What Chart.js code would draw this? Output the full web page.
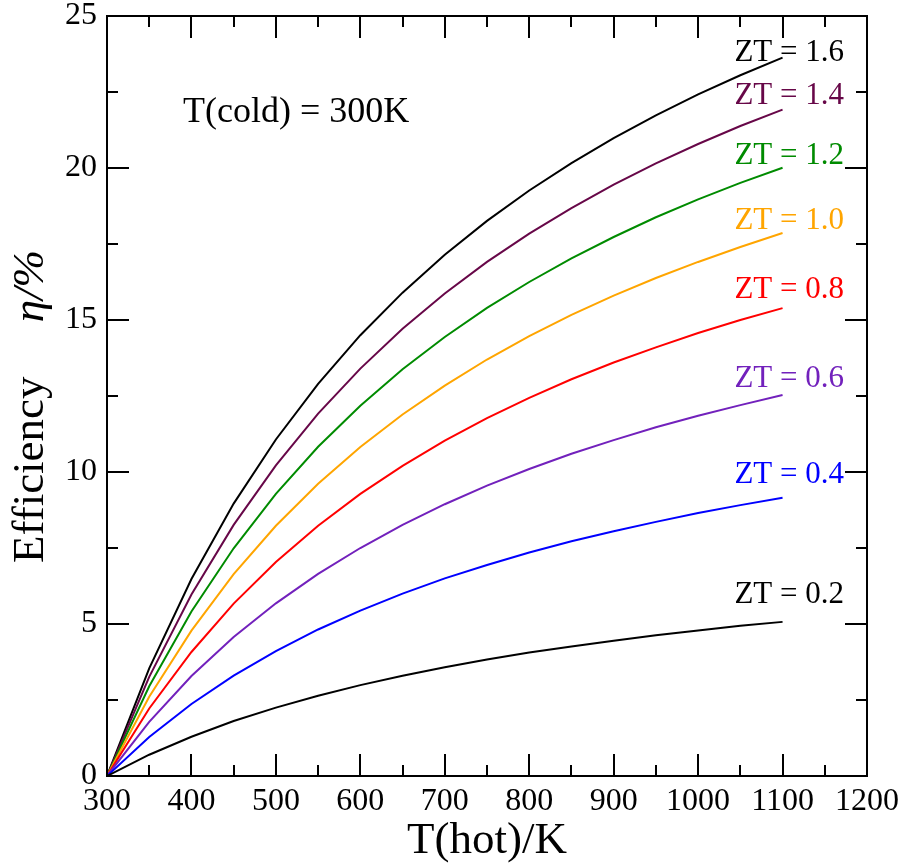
<!DOCTYPE html>
<html>
<head>
<meta charset="utf-8">
<title>Thermoelectric efficiency</title>
<script src="https://cdn.jsdelivr.net/npm/chart.js@4"></script>
<style>
    body { margin: 0; background: #fff; }
    canvas { display: block; }
</style>
</head>
<body>
<canvas id="effChart" width="905" height="863"></canvas>
<script>
// Hot side temperature (K), cold side fixed at 300 K
const tHot = [300, 350, 400, 450, 500, 550, 600, 650, 700, 750, 800, 850, 900, 950, 1000, 1050, 1100];

// Efficiency in %, one array per ZT
const zt02 = [0, 0.70, 1.29, 1.81, 2.25, 2.64, 2.99, 3.30, 3.58, 3.83, 4.06, 4.26, 4.45, 4.63, 4.79, 4.94, 5.07];
const zt04 = [0, 1.28, 2.37, 3.30, 4.11, 4.82, 5.44, 6.00, 6.50, 6.94, 7.35, 7.72, 8.05, 8.36, 8.65, 8.91, 9.15];
const zt06 = [0, 1.78, 3.29, 4.57, 5.68, 6.65, 7.50, 8.26, 8.94, 9.55, 10.10, 10.60, 11.05, 11.47, 11.85, 12.20, 12.53];
const zt08 = [0, 2.22, 4.08, 5.67, 7.04, 8.23, 9.28, 10.20, 11.03, 11.77, 12.44, 13.05, 13.60, 14.10, 14.57, 15.00, 15.39];
const zt10 = [0, 2.61, 4.78, 6.64, 8.23, 9.61, 10.82, 11.89, 12.84, 13.70, 14.47, 15.17, 15.80, 16.38, 16.91, 17.40, 17.86];
const zt12 = [0, 2.95, 5.41, 7.49, 9.28, 10.83, 12.18, 13.38, 14.44, 15.40, 16.25, 17.03, 17.73, 18.38, 18.97, 19.51, 20.01];
const zt14 = [0, 3.26, 5.97, 8.26, 10.22, 11.92, 13.40, 14.71, 15.87, 16.91, 17.84, 18.68, 19.45, 20.15, 20.79, 21.38, 21.92];
const zt16 = [0, 3.54, 6.48, 8.96, 11.07, 12.90, 14.50, 15.90, 17.15, 18.26, 19.26, 20.16, 20.98, 21.73, 22.42, 23.05, 23.63];

const seriesLabels = ['ZT = 0.2', 'ZT = 0.4', 'ZT = 0.6', 'ZT = 0.8', 'ZT = 1.0', 'ZT = 1.2', 'ZT = 1.4', 'ZT = 1.6'];
const seriesValues = [zt02, zt04, zt06, zt08, zt10, zt12, zt14, zt16];
const seriesColors = ['#000000', '#0000ff', '#7221bc', '#ff0000', '#ffa500', '#008b00', '#670748', '#000000'];

// Axis ranges / tick steps
const xRange = [300, 1200];
const yRange = [0, 25];
const xMajor = 100, xMinor = 50;
const yMajor = 5, yMinor = 2.5;

const serif = "'Liberation Serif', 'DejaVu Serif', serif";

// Label baselines in pixels (right aligned at labelRight)
const labelBaselines = [603, 483, 387, 298, 229, 164, 104, 61];
const labelRight = 844;

function buildDatasets() {
    return seriesValues.map((vals, i) => ({
        label: seriesLabels[i],
        data: tHot.map((t, j) => ({ x: t, y: vals[j] })),
        borderColor: seriesColors[i],
        backgroundColor: seriesColors[i],
        borderWidth: 2,
        pointRadius: 0,
        tension: 0,
        fill: false
    }));
}

// Frame, inward ticks, curve labels and axis titles
const decorPlugin = {
    id: 'decor',
    afterDraw(chart) {
        const ctx = chart.ctx;
        const area = chart.chartArea;
        const xs = chart.scales.x;
        const ys = chart.scales.y;
        ctx.save();
        ctx.strokeStyle = '#000';
        ctx.lineWidth = 2;

        ctx.beginPath();
        for (let v = xRange[0]; v <= xRange[1]; v += xMinor) {
            const len = (v % xMajor === 0) ? 22 : 11;
            const px = Math.round(xs.getPixelForValue(v));
            ctx.moveTo(px, area.bottom); ctx.lineTo(px, area.bottom - len);
            ctx.moveTo(px, area.top); ctx.lineTo(px, area.top + len);
        }
        for (let v = yRange[0]; v <= yRange[1]; v += yMinor) {
            const len = (v % yMajor === 0) ? 22 : 11;
            const py = Math.round(ys.getPixelForValue(v));
            ctx.moveTo(area.left, py); ctx.lineTo(area.left + len, py);
            ctx.moveTo(area.right, py); ctx.lineTo(area.right - len, py);
        }
        ctx.stroke();
        ctx.strokeRect(area.left, area.top, area.right - area.left, area.bottom - area.top);

        // curve labels
        ctx.font = '31px ' + serif;
        ctx.textAlign = 'right';
        ctx.textBaseline = 'alphabetic';
        seriesLabels.forEach((txt, i) => {
            ctx.fillStyle = seriesColors[i];
            ctx.fillText(txt, labelRight, labelBaselines[i]);
        });

        ctx.fillStyle = '#000';
        ctx.textAlign = 'left';
        ctx.font = '36px ' + serif;
        ctx.fillText('T(cold) = 300K', 183, 122);

        // x title
        ctx.textAlign = 'center';
        ctx.font = '45px ' + serif;
        ctx.fillText('T(hot)/K', (area.left + area.right) / 2, 853);

        // y title, rotated
        ctx.translate(43, 0);
        ctx.rotate(-Math.PI / 2);
        ctx.textAlign = 'left';
        ctx.font = '45px ' + serif;
        ctx.fillText('Efficiency', -563, 0);
        ctx.textAlign = 'right';
        ctx.font = 'italic 45px ' + serif;
        ctx.fillText('\u03b7/%', -250, 0);
        ctx.restore();
    }
};

function initializeChart() {
    const ctx = document.getElementById('effChart');
    new Chart(ctx, {
        type: 'line',
        data: { datasets: buildDatasets() },
        options: {
            responsive: false,
            animation: false,
            devicePixelRatio: 1,
            layout: { padding: { top: 16, right: 38, left: 0, bottom: 0 } },
            plugins: {
                legend: { display: false },
                tooltip: { enabled: false }
            },
            scales: {
                x: {
                    type: 'linear',
                    min: xRange[0],
                    max: xRange[1],
                    afterFit: s => {
                        s.height = 87;
                        s.paddingLeft = 0;
                        s.paddingRight = 0;
                    },
                    grid: { drawOnChartArea: false, drawTicks: false },
                    border: { display: false },
                    ticks: {
                        stepSize: xMajor,
                        color: '#000',
                        padding: 6,
                        maxRotation: 0,
                        callback: v => String(v),
                        font: { family: serif, size: 32 }
                    }
                },
                y: {
                    type: 'linear',
                    min: yRange[0],
                    max: yRange[1],
                    afterFit: s => {
                        s.width = 107;
                        s.paddingTop = 0;
                        s.paddingBottom = 0;
                    },
                    grid: { drawOnChartArea: false, drawTicks: false },
                    border: { display: false },
                    ticks: {
                        stepSize: yMajor,
                        color: '#000',
                        padding: 10,
                        callback: v => String(v),
                        font: { family: serif, size: 32 }
                    }
                }
            }
        },
        plugins: [decorPlugin]
    });
}

document.addEventListener('DOMContentLoaded', initializeChart);
</script>
</body>
</html>
